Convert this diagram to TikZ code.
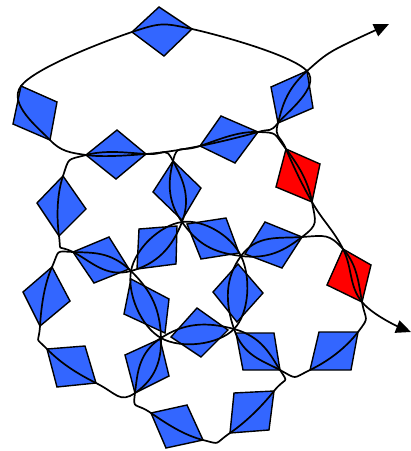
\documentclass[tikz,border=0pt]{standalone}
\usetikzlibrary{arrows.meta}
\definecolor{tileblue}{RGB}{51,102,255}
\tikzset{
  tile/.style={fill=tileblue,draw=black,line width=1.4pt},
  redtile/.style={tile,fill=red},
  chain/.style={line width=1.7pt},
}
\begin{document}
\begin{tikzpicture}[x=1pt,y=-1pt]
\useasboundingbox (0,0) rectangle (411,451);
\filldraw[tile] (159,7) -- (192,29) -- (164,56) -- (132,32) -- cycle;
\filldraw[tile] (21,86) -- (57,102) -- (50,140) -- (13,124) -- cycle;
\filldraw[tile] (307,71) -- (313,108) -- (278,123) -- (271,87) -- cycle;
\filldraw[tile] (117,130) -- (146,154) -- (116,179) -- (86,155) -- cycle;
\filldraw[tile] (221,116) -- (258,132) -- (235,163) -- (200,146) -- cycle;
\filldraw[redtile] (286,149) -- (320,164) -- (312,202) -- (276,187) -- cycle;
\filldraw[tile] (63,176) -- (86,209) -- (59,236) -- (37,203) -- cycle;
\filldraw[tile] (173,161) -- (201,188) -- (182,220) -- (153,192) -- cycle;
\filldraw[tile] (73,252) -- (109,237) -- (129,269) -- (94,283) -- cycle;
\filldraw[tile] (139,229) -- (177,226) -- (176,264) -- (137,269) -- cycle;
\filldraw[tile] (187,224) -- (226,218) -- (239,253) -- (201,259) -- cycle;
\filldraw[tile] (265,222) -- (302,237) -- (282,268) -- (245,254) -- cycle;
\filldraw[redtile] (343,249) -- (371,265) -- (362,302) -- (327,285) -- cycle;
\filldraw[tile] (52,267) -- (70,301) -- (40,326) -- (23,292) -- cycle;
\filldraw[tile] (131,279) -- (169,299) -- (165,333) -- (124,314) -- cycle;
\filldraw[tile] (238,264) -- (263,293) -- (237,322) -- (213,292) -- cycle;
\filldraw[tile] (197,308) -- (228,330) -- (201,357) -- (171,337) -- cycle;
\filldraw[tile] (125,355) -- (160,339) -- (169,376) -- (135,393) -- cycle;
\filldraw[tile] (236,333) -- (274,333) -- (280,370) -- (243,370) -- cycle;
\filldraw[tile] (319,332) -- (358,332) -- (351,370) -- (310,370) -- cycle;
\filldraw[tile] (47,349) -- (85,346) -- (96,383) -- (57,387) -- cycle;
\filldraw[tile] (151,413) -- (187,405) -- (203,440) -- (166,448) -- cycle;
\filldraw[tile] (234,393) -- (274,391) -- (269,430) -- (230,433) -- cycle;
\coordinate (v1) at (132,32);
\coordinate (v2) at (192,29);
\coordinate (v3) at (307,71);
\coordinate (v4) at (278,123);
\coordinate (v5) at (258,132);
\coordinate (v6) at (200,146);
\coordinate (v7) at (146,154);
\coordinate (v8) at (86,155);
\coordinate (v9) at (50,140);
\coordinate (v10) at (21,86);
\coordinate (v11) at (286,149);
\coordinate (v12) at (312,202);
\coordinate (v13) at (302,237);
\coordinate (vb) at (241,256);
\coordinate (va) at (182,222);
\coordinate (v16) at (173,161);
\coordinate (v17) at (63,176);
\coordinate (v18) at (59,236);
\coordinate (v19) at (73,252);
\coordinate (ve) at (131,271);
\coordinate (v21) at (343,249);
\coordinate (v22) at (362,302);
\coordinate (v23) at (358,332);
\coordinate (v24) at (310,370);
\coordinate (v25) at (280,370);
\coordinate (vc) at (234,329);
\coordinate (vd) at (161,338);
\coordinate (v28) at (52,267);
\coordinate (v29) at (40,326);
\coordinate (v30) at (47,349);
\coordinate (v31) at (96,383);
\coordinate (v32) at (135,393);
\coordinate (v33) at (151,413);
\coordinate (v34) at (203,440);
\coordinate (v35) at (230,433);
\coordinate (v36) at (274,391);
\coordinate (tailstart) at (389,24);
\coordinate (tailend) at (411,332);
\draw[chain] plot[smooth cycle,tension=0.6] coordinates {(v1) (v2) (v3) (v4) (v5) (v6) (v7) (v8) (v9) (v10)};
\draw[chain] plot[smooth cycle,tension=0.85] coordinates {(va) (v16) (v7) (v8) (v17) (v18) (v19) (ve)};
\draw[chain] plot[smooth cycle,tension=0.85] coordinates {(va) (v16) (v6) (v5) (v11) (v12) (v13) (vb)};
\draw[chain] plot[smooth cycle,tension=0.7] coordinates {(va) (vb) (vc) (vd) (ve)};
\draw[chain] plot[smooth cycle,tension=0.85] coordinates {(vb) (v13) (v21) (v22) (v23) (v24) (v25) (vc)};
\draw[chain] plot[smooth cycle,tension=0.85] coordinates {(ve) (v19) (v28) (v29) (v30) (v31) (v32) (vd)};
\draw[chain] plot[smooth cycle,tension=0.85] coordinates {(vd) (vc) (v25) (v36) (v35) (v34) (v33) (v32)};
\draw[chain,{Triangle[length=15pt,width=13pt]}-{Triangle[length=15pt,width=13pt]}] plot[smooth,tension=0.7] coordinates {(tailstart) (v3) (v4) (v11) (v12) (v21) (v22) (tailend)};
\end{tikzpicture}
\end{document}
